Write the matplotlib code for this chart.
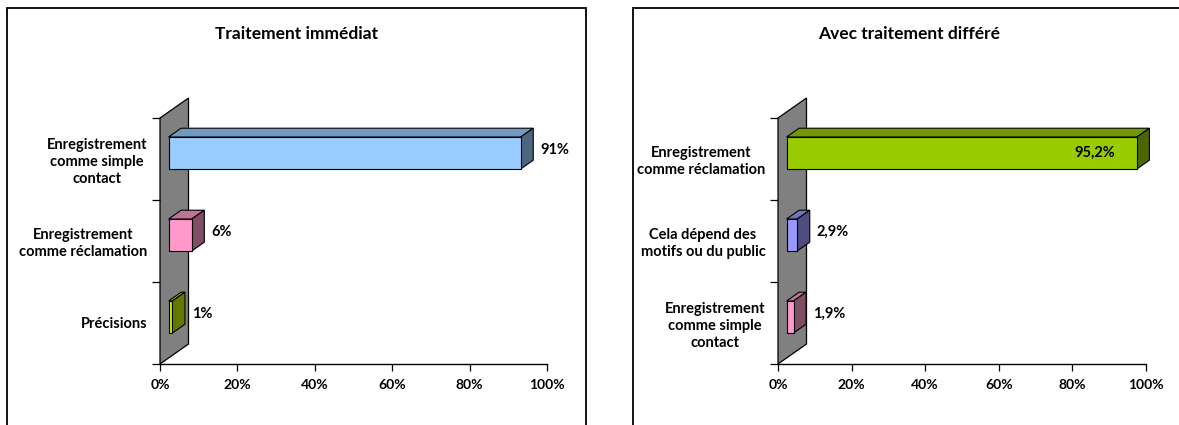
import matplotlib
matplotlib.use("Agg")
import matplotlib.pyplot as plt
from matplotlib.patches import Polygon, Rectangle
from matplotlib.colors import to_rgb

plt.rcParams['font.family'] = ['Lato', 'DejaVu Sans']
plt.rcParams['font.weight'] = 'bold'

# ---- data ----
left_title = "Traitement immédiat"
left_categories = ["Enregistrement\ncomme simple\ncontact",
                   "Enregistrement\ncomme réclamation",
                   "Précisions"]
left_values = [91, 6, 1]
left_colors = ["#99CCFF", "#FF99CC", "#CCEE00"]

right_title = "Avec traitement différé"
right_categories = ["Enregistrement\ncomme réclamation",
                    "Cela dépend des\nmotifs ou du public",
                    "Enregistrement\ncomme simple\ncontact"]
right_values = [95.2, 2.9, 1.9]
right_colors = ["#99CC00", "#9999FF", "#FF99CC"]

x_ticks = [0, 20, 40, 60, 80, 100]
x_ticklabels = ["0%", "20%", "40%", "60%", "80%", "100%"]

W, H = 1179, 425
fig = plt.figure(figsize=(W / 100, H / 100), dpi=100)


def shade(color, f):
    return tuple(c * f for c in to_rgb(color))


def fmt(v):
    return f"{v:g}".replace(".", ",") + "%"


def panel(box, plot_px, title, categories, values, colors):
    bx0, bx1 = box
    # frame around the chart
    fig.add_artist(Rectangle((bx0 / W, -0.05), (bx1 - bx0) / W, 1.05 - 8 / H,
                             transform=fig.transFigure, fill=False,
                             edgecolor="black", linewidth=1.3, clip_on=False))
    fig.text((bx0 + bx1) / 2 / W, 1 - 34 / H, title, ha="center", va="center",
             fontsize=12.5, fontweight="bold")

    px0, px1, py_top, py_bot = plot_px
    ax = fig.add_axes([px0 / W, 1 - py_bot / H, (px1 - px0) / W, (py_bot - py_top) / H])
    n = len(categories)
    ax.set_xlim(0, 100)
    ax.set_ylim(n, 0)
    ax.patch.set_visible(False)
    for s in ("top", "right", "left"):
        ax.spines[s].set_visible(False)
    ax.spines["bottom"].set_linewidth(1.0)

    # depth vector of the 3-D box, in data units
    dx = 28.5 / (px1 - px0) * 100
    dy = -20 / (py_bot - py_top) * n

    wall = Polygon([(0, 0), (dx, dy), (dx, n + dy), (0, n)], closed=True,
                   facecolor="#808080", edgecolor="black", linewidth=0.9,
                   clip_on=False, zorder=1)
    ax.add_patch(wall)

    ax.set_xticks(x_ticks, x_ticklabels)
    ax.tick_params(axis="x", direction="out", length=5, width=0.9, pad=6,
                   labelsize=10)
    ax.set_yticks(range(n + 1), [""] * (n + 1))
    ax.tick_params(axis="y", which="major", direction="out", length=6, width=0.9)
    ax.set_yticks([i + 0.5 for i in range(n)], categories, minor=True)
    ax.tick_params(axis="y", which="minor", length=0, pad=9, labelsize=10.5)
    for lab in ax.get_yticklabels(minor=True):
        lab.set_multialignment("center")
        lab.set_linespacing(1.25)
        lab.set_fontweight("bold")
    for lab in ax.get_xticklabels():
        lab.set_fontweight("bold")

    f0, f1 = 0.3, 0.74
    h = 0.39
    for i, (v, c) in enumerate(zip(values, colors)):
        yc = i + 0.5 + f0 * dy
        top, bot = yc - h / 2, yc + h / 2
        x0 = f0 * dx
        x1 = v + f0 * dx
        ddx, ddy = (f1 - f0) * dx, (f1 - f0) * dy
        kw = dict(closed=True, edgecolor="black", linewidth=0.8, clip_on=False, zorder=3)
        ax.add_patch(Polygon([(x0, top), (x0 + ddx, top + ddy), (x1 + ddx, top + ddy), (x1, top)],
                             facecolor=shade(c, 0.75), **kw))
        ax.add_patch(Polygon([(x1, top), (x1 + ddx, top + ddy), (x1 + ddx, bot + ddy), (x1, bot)],
                             facecolor=shade(c, 0.5), **kw))
        ax.add_patch(Polygon([(x0, top), (x1, top), (x1, bot), (x0, bot)],
                             facecolor=c, **kw))
        if v > 93:
            ax.annotate(fmt(v), (x1, yc), xytext=(-22, 0), textcoords="offset pixels",
                        ha="right", va="center", fontsize=10.5, fontweight="bold", zorder=4)
        else:
            ax.annotate(fmt(v), (x1 + ddx, yc), xytext=(7, 3), textcoords="offset pixels",
                        ha="left", va="center", fontsize=10.5, fontweight="bold", zorder=4)
    return ax


panel((7.5, 586), (160, 547, 118, 364), left_title, left_categories, left_values, left_colors)
panel((633, 1186), (778, 1146, 118, 364), right_title, right_categories, right_values, right_colors)

fig.savefig("out.png", dpi=100, facecolor="white")
